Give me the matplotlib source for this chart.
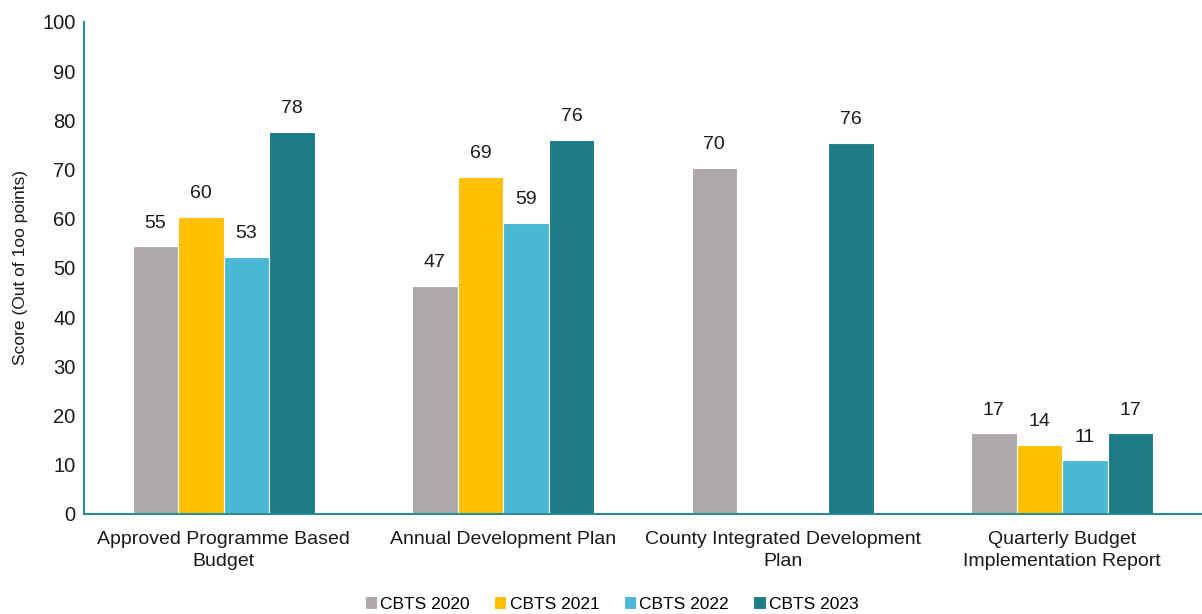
import matplotlib
matplotlib.use("Agg")
import matplotlib.pyplot as plt
import numpy as np

categories = ["Approved Programme Based\nBudget", "Annual Development Plan",
              "County Integrated Development\nPlan", "Quarterly Budget\nImplementation Report"]
series_names = ["CBTS 2020", "CBTS 2021", "CBTS 2022", "CBTS 2023"]

# bar heights (nan = no bar)
cbts_2020 = [54.4, 46.4, 70.3, 16.4]
cbts_2021 = [60.4, 68.5, np.nan, 14.1]
cbts_2022 = [52.3, 59.1, np.nan, 10.9]
cbts_2023 = [77.7, 76.0, 75.5, 16.4]

# labels printed above the bars
labels_2020 = ["55", "47", "70", "17"]
labels_2021 = ["60", "69", "", "14"]
labels_2022 = ["53", "59", "", "11"]
labels_2023 = ["78", "76", "76", "17"]

colors = ["#ADA9A8", "#FFC000", "#4AB8D3", "#1D7B87"]
spine_col = "#2A8B95"
txt = "#1a1a1a"

plt.rcParams["font.family"] = ["Liberation Sans", "DejaVu Sans"]

fig = plt.figure(figsize=(12.02, 6.14), dpi=100)
ax = fig.add_axes([0.0699, 0.1629, 0.93, 0.8013])

x = np.arange(len(categories))
w = 0.163
all_vals = [cbts_2020, cbts_2021, cbts_2022, cbts_2023]
all_labels = [labels_2020, labels_2021, labels_2022, labels_2023]
for i, (vals, labs) in enumerate(zip(all_vals, all_labels)):
    pos = x + (i - 1.5) * w
    ax.bar(pos, vals, w, color=colors[i], edgecolor="white", linewidth=0.8,
           label=series_names[i])
    for p, v, t in zip(pos, vals, labs):
        if t:
            ax.text(p, v + 3, t, ha="center", va="bottom", fontsize=14, color=txt)

ax.set_xlim(-0.5, 3.5)
ax.set_ylim(0, 100)
ax.set_yticks(range(0, 101, 10))
ax.set_xticks(x)
ax.set_xticklabels(categories, fontsize=14, color=txt, linespacing=1.45)
ax.tick_params(axis="y", labelsize=14.5, length=0, pad=6, labelcolor=txt)
ax.tick_params(axis="x", length=0, pad=12)
ax.set_ylabel("Score (Out of 1oo points)", fontsize=12.5, color=txt, labelpad=10)

for s in ["top", "right"]:
    ax.spines[s].set_visible(False)
for s in ["left", "bottom"]:
    ax.spines[s].set_color(spine_col)
    ax.spines[s].set_linewidth(1.5)

ax.legend(loc="center", bbox_to_anchor=(0.472, -0.183), ncol=4, frameon=False,
          fontsize=12.5, handlelength=0.7, handleheight=0.7, handletextpad=0.2,
          columnspacing=1.4, borderaxespad=0)

fig.savefig("out.png", dpi=100)
